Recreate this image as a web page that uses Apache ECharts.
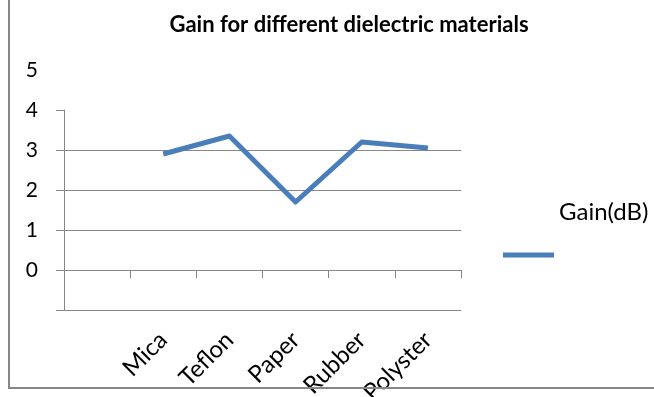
<!DOCTYPE html>
<html><head><meta charset="utf-8">
<script src="https://cdn.jsdelivr.net/npm/echarts@6/dist/echarts.min.js"></script>
<style>
html,body{margin:0;padding:0;background:#fff;}
#wrap{position:relative;width:654px;height:397px;overflow:hidden;}
#c{width:654px;height:397px;}
#frame{position:absolute;left:8px;top:-4px;width:660px;height:391px;border-left:2px solid #878787;border-bottom:2px solid #878787;pointer-events:none;}
</style></head>
<body><div id="wrap"><div id="c"></div><div id="frame"></div></div>
<script>
const titleText = 'Gain for different dielectric materials';
const seriesName = 'Gain(dB)';
const categories = ['', 'Mica', 'Teflon', 'Paper', 'Rubber', 'Polyster'];
const gainValues = [null, 2.9, 3.35, 1.7, 3.2, 3.05];
const yTickLabels = [0, 1, 2, 3, 4, 5];
const yTickMarks = [-1, 0, 1, 2, 3, 4];

const FONT = 'Lato';
const GRID = '#878787';
const chart = echarts.init(document.getElementById('c'), null, {renderer: 'canvas'});
chart.setOption({
  animation: false,
  backgroundColor: '#fff',
  title: {
    text: titleText, left: 344, top: 9, textAlign: 'center',
    textStyle: {fontFamily: FONT, fontWeight: 'bold', fontSize: 22, color: '#000'}
  },
  legend: {
    left: 503, top: 200, padding: 0,
    icon: 'rect', itemWidth: 51, itemHeight: 5, itemGap: 5,
    data: [seriesName],
    formatter: '{t|{name}}',
    textStyle: {
      fontFamily: FONT, fontSize: 24, color: '#000',
      rich: {t: {fontFamily: FONT, fontSize: 24, color: '#000', lineHeight: 24, padding: [0, 0, 86, 0]}}
    }
  },
  grid: [
    {left: 64, right: 193, top: 70, bottom: 87, containLabel: false, outerBoundsMode: 'none'},
    {left: 64, right: 193, top: 110, bottom: 87, containLabel: false, outerBoundsMode: 'none'}
  ],
  xAxis: [
    {
      type: 'category', data: categories, gridIndex: 0, boundaryGap: true,
      axisLine: {show: true, lineStyle: {color: GRID, width: 1}},
      axisTick: {show: true, alignWithLabel: false, length: 8, lineStyle: {color: GRID}},
      axisLabel: {rotate: 45, margin: 26, interval: 0, fontFamily: FONT, fontSize: 24, color: '#000'},
      splitLine: {show: false}
    },
    {type: 'value', gridIndex: 1, show: false, min: 0, max: 1}
  ],
  yAxis: [
    {
      type: 'value', gridIndex: 0, min: -1, max: 5, interval: 1,
      axisLine: {show: false},
      axisTick: {show: true, length: 8, customValues: yTickMarks, lineStyle: {color: GRID}},
      axisLabel: {customValues: yTickLabels, margin: 26, fontFamily: FONT, fontSize: 21, color: '#000'},
      splitLine: {show: true, showMaxLine: false, lineStyle: {color: GRID, width: 1}}
    },
    {
      type: 'value', gridIndex: 1, min: 0, max: 1,
      axisLine: {show: true, lineStyle: {color: GRID, width: 1}},
      axisTick: {show: false}, axisLabel: {show: false}, splitLine: {show: false}
    }
  ],
  series: [{
    name: seriesName, type: 'line', xAxisIndex: 0, yAxisIndex: 0,
    data: gainValues, connectNulls: false, showSymbol: false, symbol: 'none',
    color: '#4a7ebb',
    lineStyle: {width: 5, color: '#4a7ebb', join: 'round', cap: 'butt'}
  }]
});
</script></body></html>
